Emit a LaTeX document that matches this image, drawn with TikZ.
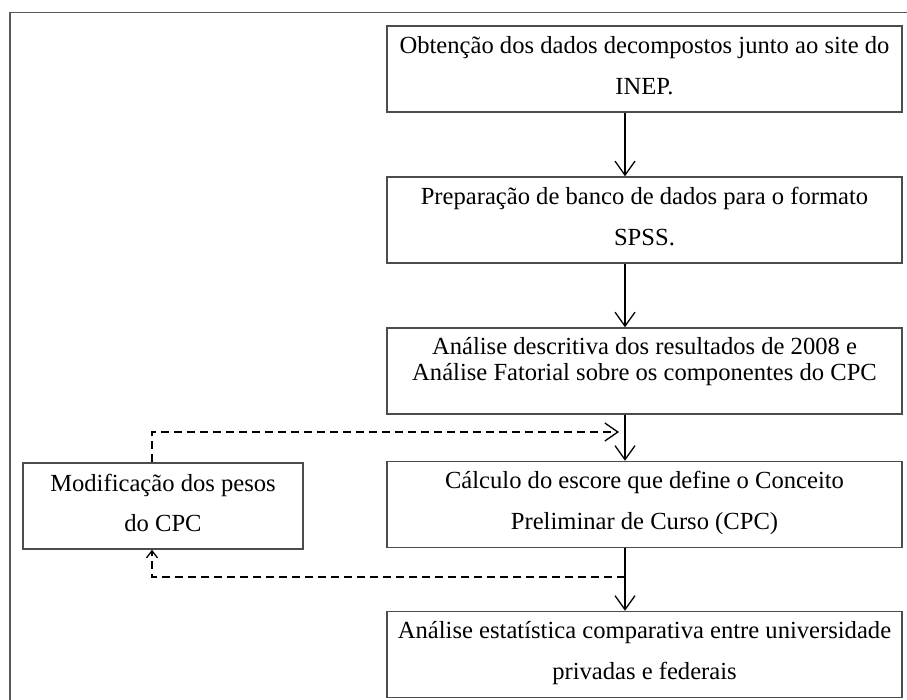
\documentclass[tikz,border=0pt]{standalone}
\usepackage{fontspec}
\setmainfont{Liberation Serif}
\usetikzlibrary{arrows.meta}

\newcommand{\duaslinhas}[3][-2.8pt]{\raisebox{#1}[0pt][0pt]{\begin{tabular}{@{}c@{}}#2\\#3\end{tabular}}}

\begin{document}
\begin{tikzpicture}[x=1pt,y=-1pt,
		caixa/.style={draw=black!70,line width=1.5pt,minimum width=515pt,minimum height=86pt,
			inner sep=0pt,font=\fontsize{24.6}{41}\selectfont},
		seta/.style={-{Straight Barb[length=14pt,width=20pt]},line width=1.3pt},
		volta/.style={dash pattern=on 8pt off 5pt,line width=1.3pt}]
		\useasboundingbox (0,0) rectangle (907,699);
		\draw [black!65,line width=1.2pt] (10,12.7) rectangle (925,720);
		% fluxo principal
		\node [caixa] (obtencao) at (644.5,69)
			{\duaslinhas{Obtenção dos dados decompostos junto ao site do}{INEP.}};
		\node [caixa] (preparacao) at (644.5,220)
			{\duaslinhas{Preparação de banco de dados para o formato}{SPSS.}};
		\node [caixa,font=\fontsize{24.6}{26.5}\selectfont] (analise) at (644.5,371)
			{\duaslinhas[2.4pt]{Análise descritiva dos resultados de 2008 e}
				{Análise Fatorial sobre os componentes do CPC}};
		\node [caixa] (calculo) at (644.5,504.5)
			{\duaslinhas{Cálculo do escore que define o Conceito}{Preliminar de Curso (CPC)}};
		\node [caixa] (estatistica) at (644.5,654.5)
			{\duaslinhas{Análise estatística comparativa entre universidade}{privadas e federais}};
		\node [caixa,minimum width=280pt,font=\fontsize{24.6}{40}\selectfont] (modificacao) at (163,506)
			{\duaslinhas[-3.8pt]{Modificação dos pesos}{do CPC}};
		\coordinate (eixo) at (625,0);
		\coordinate (laco) at (152,0);
		\coordinate (topo) at (619,432);
		\coordinate (base) at (625,577);
		\draw [seta] (obtencao.south -| eixo) -- (preparacao.north -| eixo);
		\draw [seta] (preparacao.south -| eixo) -- (analise.north -| eixo);
		\draw [seta] (analise.south -| eixo) -- (calculo.north -| eixo);
		\draw [seta] (calculo.south -| eixo) -- (estatistica.north -| eixo);
		% retorno tracejado
		\draw [volta,-{Straight Barb[length=13pt,width=18pt]}] (modificacao.north -| laco) |- (topo);
		\draw [volta,-{Straight Barb[length=7pt,width=11pt]}] (base) -| (modificacao.south -| laco);
	\end{tikzpicture}
\end{document}
